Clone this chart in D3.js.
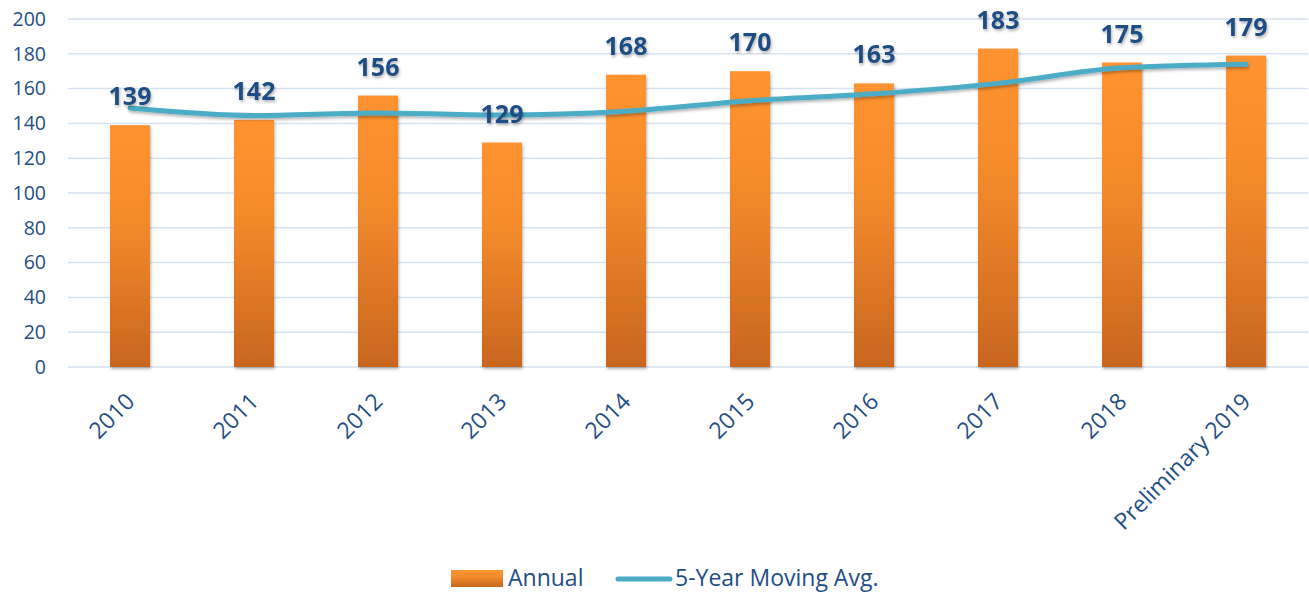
<!DOCTYPE html>
<html>
<head>
<meta charset="utf-8">
<script src="https://cdn.jsdelivr.net/npm/d3@7"></script>
<style>
  body { margin: 0; background: #fff; }
  text { font-family: "Open Sans", "Noto Sans", sans-serif; }
</style>
</head>
<body>
<svg id="chart" width="1309" height="595"></svg>
<script>
(function(){
    'use strict';

    // chart data
    const years = ['2010', '2011', '2012', '2013', '2014', '2015', '2016', '2017', '2018', 'Preliminary 2019'];
    const annual = [139, 142, 156, 129, 168, 170, 163, 183, 175, 179];
    const movingAvg = [148.9, 144.6, 146, 144.8, 147, 153, 157, 163, 172, 174];
    const yTicks = [0, 20, 40, 60, 80, 100, 120, 140, 160, 180, 200];

    const width = 1309;
    const height = 595;
    const margin = {top: 19, bottom: 228, left: 68, right: 1};
    const textColor = '#1f4e85';

    const svg = d3.select('#chart');
    const defs = svg.append('defs');

    const grad = defs.append('linearGradient')
        .attr('id', 'barGrad').attr('x1', 0).attr('y1', 0).attr('x2', 0).attr('y2', 1);
    grad.append('stop').attr('offset', '0%').attr('stop-color', '#ff9330');
    grad.append('stop').attr('offset', '40%').attr('stop-color', '#f38a2b');
    grad.append('stop').attr('offset', '100%').attr('stop-color', '#c8661f');

    const shadow = defs.append('filter').attr('id', 'shadow')
        .attr('x', '-20%').attr('y', '-20%').attr('width', '140%').attr('height', '140%');
    shadow.append('feDropShadow')
        .attr('dx', 1).attr('dy', 2).attr('stdDeviation', 1.5)
        .attr('flood-color', '#000').attr('flood-opacity', 0.3);

    const x = d3.scaleBand()
        .domain(years)
        .range([margin.left, width - margin.right]);

    const y = d3.scaleLinear()
        .domain([0, 200])
        .range([height - margin.bottom, margin.top]);

    // gridlines
    svg.append('g')
        .selectAll('line')
        .data(yTicks)
        .enter()
        .append('line')
            .attr('x1', margin.left)
            .attr('x2', width - margin.right)
            .attr('y1', d => y(d))
            .attr('y2', d => y(d))
            .attr('stroke', '#d6e1f1')
            .attr('stroke-width', 1.5);

    // y axis
    function yAxis(g){
        g.attr('transform', `translate(${margin.left - 22}, 0)`)
            .call(d3.axisLeft(y).tickValues(yTicks).tickSize(0).tickPadding(0));
        g.select('.domain').remove();
        g.selectAll('text')
            .attr('fill', textColor)
            .attr('font-size', 19.5);
    }
    svg.append('g').call(yAxis);

    // x axis
    function xAxis(g){
        g.attr('transform', `translate(0, ${y(0)})`)
            .call(d3.axisBottom(x).tickSize(0).tickPadding(0));
        g.select('.domain').remove();
        g.selectAll('text')
            .attr('fill', textColor)
            .attr('font-size', 23)
            .attr('text-anchor', 'end')
            .attr('dy', 0)
            .attr('transform', 'translate(6, 36) rotate(-45)');
    }
    svg.append('g').call(xAxis);

    // bars
    const barWidth = 40;
    svg.append('g')
        .attr('filter', 'url(#shadow)')
        .selectAll('rect')
        .data(annual)
        .enter()
        .append('rect')
            .attr('x', (d, i) => x(years[i]) + x.bandwidth() / 2 - barWidth / 2)
            .attr('y', d => y(d))
            .attr('width', barWidth)
            .attr('height', d => y(0) - y(d))
            .attr('fill', 'url(#barGrad)');

    // moving average line
    const line = d3.line()
        .x((d, i) => x(years[i]) + x.bandwidth() / 2)
        .y(d => y(d))
        .curve(d3.curveMonotoneX);

    svg.append('path')
        .datum(movingAvg)
        .attr('d', line)
        .attr('fill', 'none')
        .attr('stroke', '#4bacc6')
        .attr('stroke-width', 5)
        .attr('stroke-linecap', 'round')
        .attr('filter', 'url(#shadow)');

    // value labels
    svg.append('g')
        .attr('filter', 'url(#shadow)')
        .selectAll('text')
        .data(annual)
        .enter()
        .append('text')
            .attr('x', (d, i) => x(years[i]) + x.bandwidth() / 2)
            .attr('y', d => y(d) - 20)
            .attr('text-anchor', 'middle')
            .attr('font-size', 25)
            .attr('font-weight', 'bold')
            .attr('fill', textColor)
            .text(d => d);

    // legend
    const legend = svg.append('g').attr('transform', 'translate(451, 578)');
    legend.append('rect')
        .attr('x', 0).attr('y', -8).attr('width', 52).attr('height', 17)
        .attr('fill', 'url(#barGrad)');
    legend.append('text')
        .attr('x', 57).attr('y', 8)
        .attr('font-size', 23).attr('fill', textColor)
        .text('Annual');
    legend.append('line')
        .attr('x1', 167).attr('x2', 219).attr('y1', 1).attr('y2', 1)
        .attr('stroke', '#4bacc6').attr('stroke-width', 5).attr('stroke-linecap', 'round');
    legend.append('text')
        .attr('x', 224).attr('y', 8)
        .attr('font-size', 23).attr('fill', textColor)
        .text('5-Year Moving Avg.');
})();
</script>
</body>
</html>
